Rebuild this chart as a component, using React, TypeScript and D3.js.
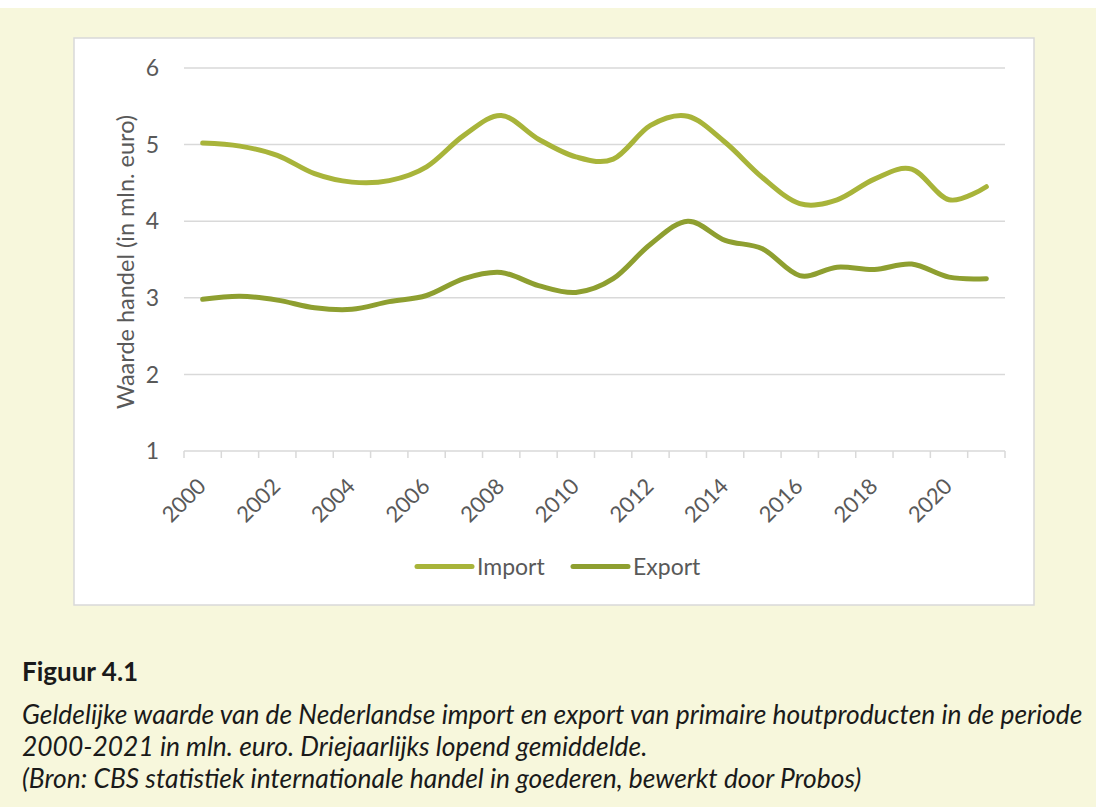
import * as d3 from 'd3'

const years = d3.range(2000, 2022).map(String)
const yearLabels = ['2000', '2002', '2004', '2006', '2008', '2010', '2012', '2014', '2016', '2018', '2020']
const importValues = [5.02, 4.98, 4.86, 4.62, 4.51, 4.53, 4.71, 5.12, 5.38, 5.07, 4.84, 4.81, 5.25, 5.37, 5.03, 4.57, 4.23, 4.28, 4.55, 4.68, 4.28, 4.45]
const exportValues = [2.98, 3.02, 2.97, 2.87, 2.85, 2.95, 3.03, 3.25, 3.33, 3.16, 3.07, 3.25, 3.7, 4.0, 3.75, 3.64, 3.29, 3.4, 3.37, 3.44, 3.27, 3.25]
const yTicks = [1, 2, 3, 4, 5, 6]

const series = [
  { name: 'Import', values: importValues, color: '#a8b43a' },
  { name: 'Export', values: exportValues, color: '#8e9f30' },
]

const captionLines = [
  'Geldelijke waarde van de Nederlandse import en export van primaire houtproducten in de periode',
  '2000-2021 in mln. euro. Driejaarlijks lopend gemiddelde.',
  '(Bron: CBS statistiek internationale handel in goederen, bewerkt door Probos)',
]

const W = 1096
const H = 807
const font = 'Lato, "Open Sans", sans-serif'
const textColor = '#595959'
const gridColor = '#d9d9d9'

export default function App() {
  const x = d3.scaleBand().domain(years).range([184, 1005]).padding(0)
  const y = d3.scaleLinear().domain([1, 6]).range([451, 68])
  const cx = (yr: string) => (x(yr) ?? 0) + x.bandwidth() / 2

  const line = d3
    .line<number>()
    .x((_, i) => cx(years[i]))
    .y((d) => y(d))
    .curve(d3.curveCardinal.tension(0))

  // tick positions sit on band boundaries
  const tickXs = years.map((yr) => x(yr) ?? 0).concat([x.range()[1]])

  return (
    <svg
      width={W}
      height={H}
      style={{ position: 'absolute', left: 0, top: 0, display: 'block' }}
      fontFamily={font}
    >
      <rect x={0} y={0} width={W} height={H} fill="#ffffff" />
      <rect x={0} y={8} width={W} height={H - 8} fill="#f7f7dc" />

      {/* chart box */}
      <rect x={74} y={38} width={960} height={567} fill="#ffffff" stroke={gridColor} strokeWidth={1.5} />

      {/* gridlines + y labels */}
      {yTicks.map((t) => (
        <g key={t}>
          <line x1={184} x2={1005} y1={y(t)} y2={y(t)} stroke={gridColor} strokeWidth={1.5} />
          <text x={159} y={y(t)} dy="0.36em" textAnchor="end" fontSize={23} fill={textColor}>
            {t}
          </text>
        </g>
      ))}

      {/* x axis ticks */}
      {tickXs.map((tx, i) => (
        <line key={i} x1={tx} x2={tx} y1={y(1)} y2={y(1) + 7} stroke={gridColor} strokeWidth={1.5} />
      ))}

      {yearLabels.map((yr) => (
        <text
          key={yr}
          transform={`translate(${cx(yr) - 1},${y(1) + 31}) rotate(-45)`}
          textAnchor="end"
          dy="0.36em"
          fontSize={22}
          fill={textColor}
        >
          {yr}
        </text>
      ))}

      {/* y axis title */}
      <text
        transform="translate(126,262) rotate(-90)"
        textAnchor="middle"
        dy="0.36em"
        fontSize={23.5}
        fill={textColor}
      >
        Waarde handel (in mln. euro)
      </text>

      {/* lines */}
      {series.map((s) => (
        <path
          key={s.name}
          d={line(s.values) ?? ''}
          fill="none"
          stroke={s.color}
          strokeWidth={5}
          strokeLinecap="round"
          strokeLinejoin="round"
        />
      ))}

      {/* legend */}
      {series.map((s, i) => {
        const lx = 417 + i * 156
        return (
          <g key={s.name}>
            <line x1={lx} x2={lx + 55} y1={566.5} y2={566.5} stroke={s.color} strokeWidth={5} strokeLinecap="round" />
            <text x={lx + 60} y={566.5} dy="0.36em" fontSize={23} fill={textColor}>
              {s.name}
            </text>
          </g>
        )
      })}

      {/* caption */}
      <text x={22} y={681} fontSize={26} fontWeight="bold" fill="#1a1a1a">
        Figuur 4.1
      </text>
      {captionLines.map((c, i) => (
        <text key={i} x={22} y={724 + i * 32} fontSize={26.4} fontStyle="italic" fill="#1a1a1a">
          {c}
        </text>
      ))}
    </svg>
  )
}
